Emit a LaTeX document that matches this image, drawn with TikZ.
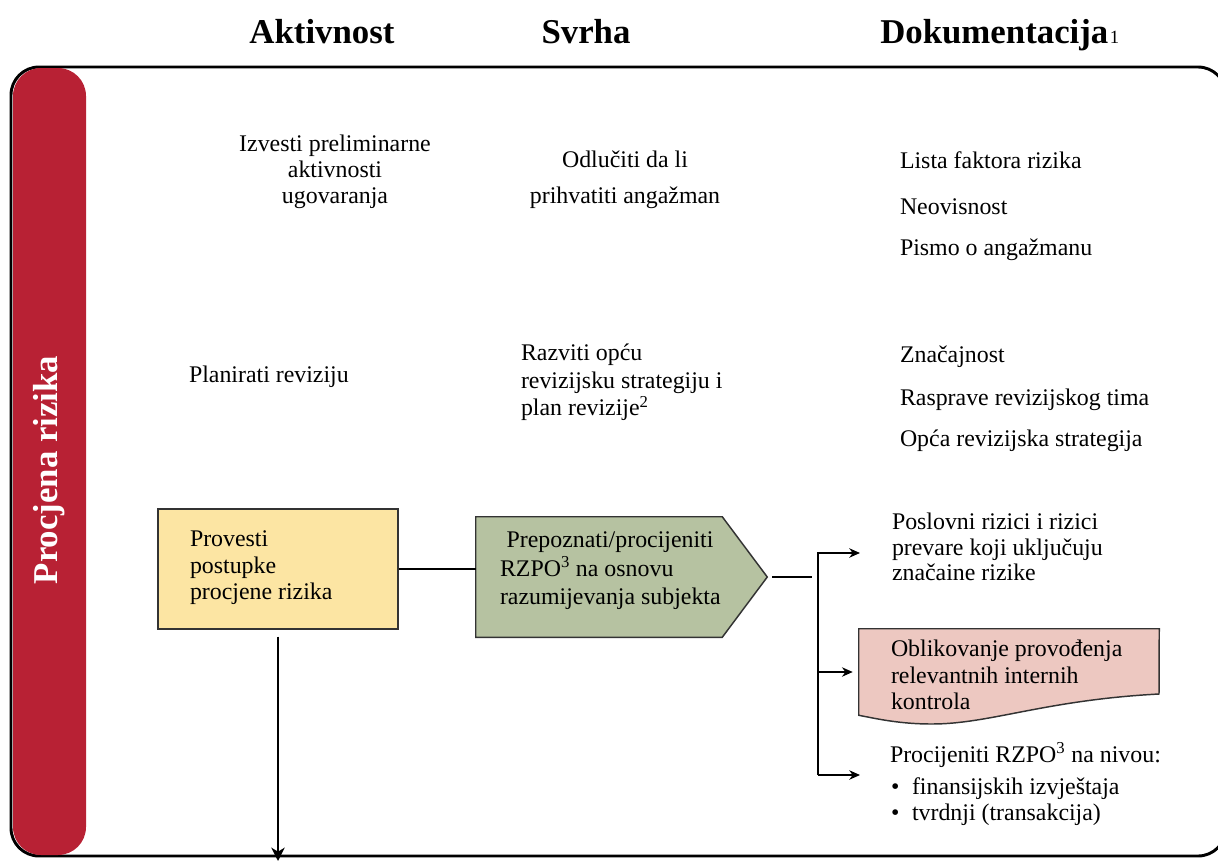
\documentclass[tikz,border=0pt]{standalone}
\usepackage{fontspec}
\setmainfont{Liberation Serif}
\usetikzlibrary{arrows.meta,calc}
\definecolor{lanered}{RGB}{184,33,52}
\definecolor{procyellow}{RGB}{252,229,163}
\definecolor{procgreen}{RGB}{182,194,161}
\definecolor{docpink}{RGB}{237,200,193}
\begin{document}
\begin{tikzpicture}[x=0.75pt,y=-0.75pt,
  body/.style={font=\fontsize{17.9}{#1}\selectfont, inner sep=0pt, outer sep=0pt},
  body/.default=20,
  head/.style={font=\fontsize{26.1}{30}\selectfont\bfseries, inner sep=0pt, anchor=base},
  boxline/.style={draw=black!80, line width=1.1pt},
  conn/.style={line width=2.2pt},
  smalltip/.style={-{Stealth[length=8pt,width=7pt,inset=2.5pt]}},
  bigtip/.style={-{Stealth[length=10pt,width=10pt,inset=3pt]}}
]
\useasboundingbox (0,0) rectangle (1218,861);

% swimlane frame and lane bar
\draw[line width=2.2pt, rounded corners=21pt] (11,67) rectangle (1226,856);
\fill[lanered, rounded corners=21pt] (13,68) rectangle (86,855);
\node[rotate=90, text=white, font=\fontsize{26.1}{30}\selectfont\bfseries, inner sep=0pt]
  (lane) at (49,470) {Procjena rizika};

% column headings
\node[head] (hact) at (322,43) {Aktivnost};
\node[head] (hpur) at (586,43) {Svrha};
\node[head, anchor=base west] (hdoc) at (880,43) {Dokumentacija};
\node[anchor=base west, inner sep=0pt, font=\fontsize{14}{16}\selectfont]
  (hdocnote) at ($(hdoc.base east)+(1,0)$) {1};

% first row
\node[body=19.5, align=center, anchor=north] (prelim) at (335,135)
  {Izvesti preliminarne\\aktivnosti\\ugovaranja};
\node[body=27, align=center, anchor=north] (accept) at (625,151)
  {Odlučiti da li\\prihvatiti angažman};
\node[body, anchor=base west] (doc1a) at (900,168) {Lista faktora rizika};
\node[body, anchor=base west] (doc1b) at (900,214) {Neovisnost};
\node[body, anchor=base west] (doc1c) at (900,255) {Pismo o angažmanu};

% second row
\node[body, anchor=base west] (plan) at (189,382) {Planirati reviziju};
\node[body=20.6, align=left, anchor=north west] (strategy) at (521,344)
  {Razviti opću\\revizijsku strategiju i\\plan revizije\textsuperscript{2}};
\node[body, anchor=base west] (doc2a) at (900,362) {Značajnost};
\node[body, anchor=base west] (doc2b) at (900,405) {Rasprave revizijskog tima};
\node[body, anchor=base west] (doc2c) at (900,446) {Opća revizijska strategija};

% third row: risk assessment procedures
\node[boxline, fill=procyellow, minimum width=180pt, minimum height=90pt, inner sep=0pt]
  (riskproc) at (278,569) {};
\node[body=19.9, align=left, anchor=north west] (riskproctext) at (190,531)
  {Provesti\\postupke\\procjene rizika};

\node[minimum width=184.5pt, minimum height=90pt, inner sep=0pt] (rzpo) at (599,577) {};
\coordinate (rzpotip) at ($(rzpo.east)+(45,0)$);
\filldraw[boxline, fill=procgreen] (rzpo.north west) -- (rzpo.north east) -- (rzpotip)
  -- (rzpo.south east) -- (rzpo.south west) -- cycle;
\node[body=21.4, align=left, anchor=north west] (rzpotext) at (500,532)
  {\hspace{5pt}Prepoznati/procijeniti\\RZPO\textsuperscript{3} na osnovu\\razumijevanja subjekta};

\draw[conn] (riskproc.east) -- (riskproc.east -| rzpo.west);

% outcomes
\node[body=19.1, align=left, anchor=north west] (risks) at (892,513)
  {Poslovni rizici i rizici\\prevare koji uključuju\\značaine rizike};

\node[minimum width=225pt, minimum height=64.5pt, inner sep=0pt] (ctrl) at (1009,672) {};
\filldraw[boxline, fill=docpink] (ctrl.south west) -- (ctrl.north west) -- (ctrl.north east)
  -- (1159,694) .. controls (1045,700) and (990,724) .. (932,724)
  .. controls (900,724) and (878,719) .. (ctrl.south west) -- cycle;
\node[body=19.9, align=left, anchor=north west] (ctrltext) at (891,640)
  {Oblikovanje provođenja\\relevantnih internih\\kontrola};

\node[body, anchor=base west] (levels) at (890,762) {Procijeniti RZPO\textsuperscript{3} na nivou:};
\node[body=19.5, align=left, anchor=north west] (levellist) at (891,778)
  {•\hspace{9.5pt}finansijskih izvještaja\\•\hspace{9.5pt}tvrdnji (transakcija)};

% fork from the assessment to its outcomes
\coordinate (forkin) at (812,577);
\coordinate (forktop) at (818,553);
\coordinate (forkmid) at (818,672);
\coordinate (forkbot) at (818,775);
\coordinate (risksin) at (860,553);
\coordinate (levelsin) at (860,775);
\draw[conn] ($(rzpotip)+(5,0)$) -- (forkin);
\draw[conn, smalltip] (forkbot) -- (forktop) -- (risksin);
\draw[conn, smalltip] (forkbot -| forktop) -- (levelsin);
\draw[conn, smalltip] (forkmid) -- ($(ctrl.west)+(-6,0)$);

% continuation downwards
\coordinate (nextphase) at (278,861);
\draw[conn, bigtip] ($(riskproc.south)+(0,7)$) -- (nextphase);
\end{tikzpicture}
\end{document}
